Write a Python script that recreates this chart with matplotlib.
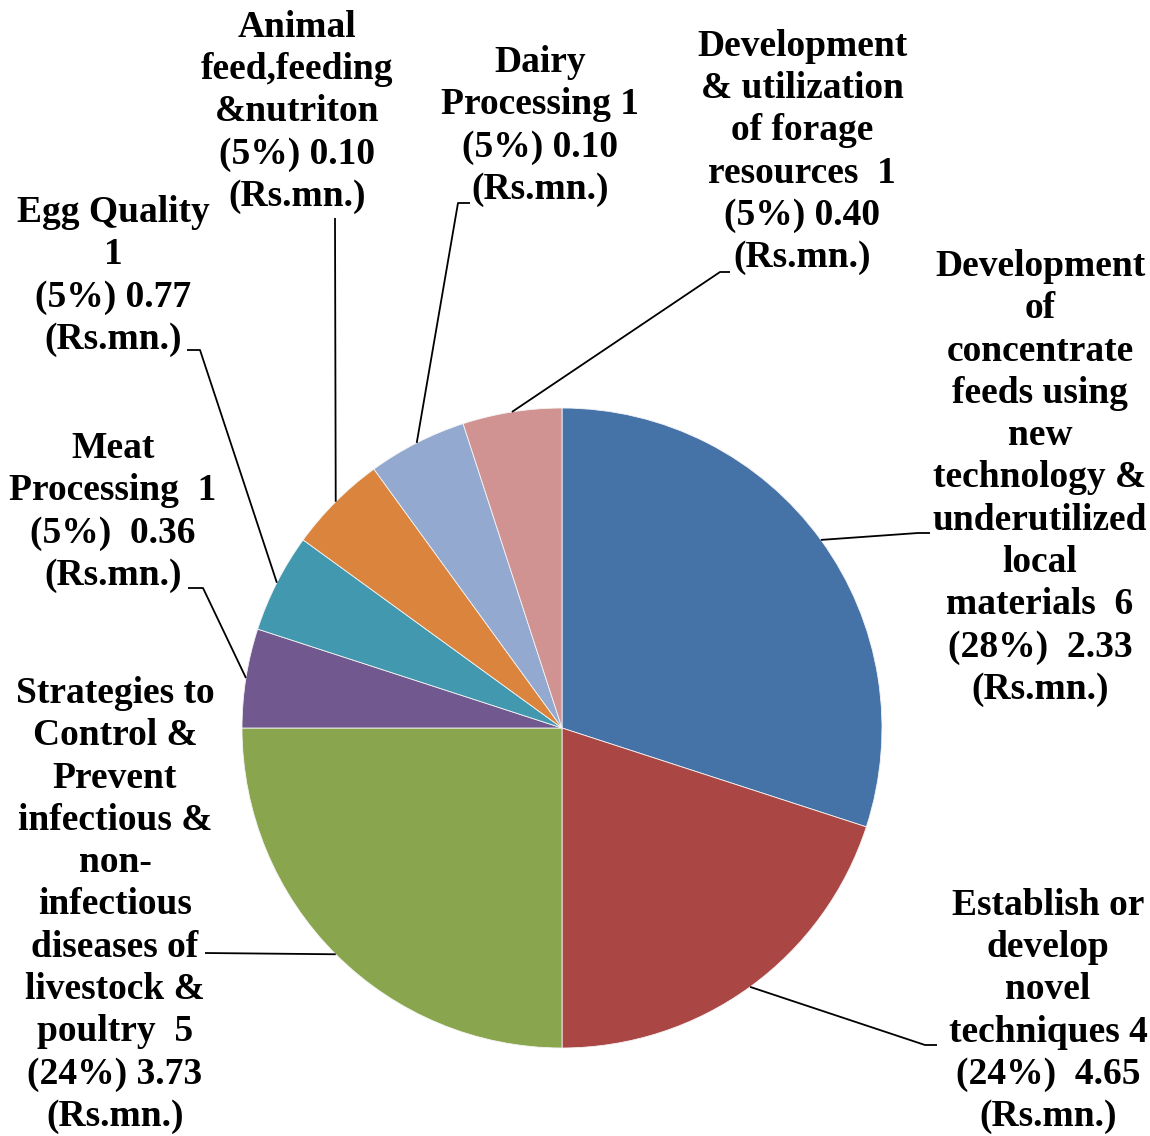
import numpy as np
import matplotlib
matplotlib.use("Agg")
import matplotlib.pyplot as plt

# ---- data ----
categories = [
    "Development\nof\nconcentrate\nfeeds using\nnew\ntechnology &\nunderutilized\nlocal\nmaterials  6\n(28%)  2.33\n(Rs.mn.)",
    "Establish or\ndevelop\nnovel\ntechniques 4\n(24%)  4.65\n(Rs.mn.)",
    "Strategies to\nControl &\nPrevent\ninfectious &\nnon-\ninfectious\ndiseases of\nlivestock &\npoultry  5\n(24%) 3.73\n(Rs.mn.)",
    "Meat\nProcessing  1\n(5%)  0.36\n(Rs.mn.)",
    "Egg Quality\n1\n(5%) 0.77\n(Rs.mn.)",
    "Animal\nfeed,feeding\n&nutriton\n(5%) 0.10\n(Rs.mn.)",
    "Dairy\nProcessing 1\n(5%) 0.10\n(Rs.mn.)",
    "Development\n& utilization\nof forage\nresources  1\n(5%) 0.40\n(Rs.mn.)",
]
project_counts = [6, 4, 5, 1, 1, 1, 1, 1]
colors = ["#4572A7", "#AA4643", "#89A54E", "#71588F",
          "#4198AF", "#DB843D", "#93A9CF", "#D19392"]

# ---- layout (image pixel coords, y downward) ----
W, H = 1150, 1136
cx, cy, R = 562, 728, 320
label_pos = [(1040, 478), (1048, 1011), (115, 905), (113, 512),
             (113, 276), (297, 112), (540, 126), (802, 152)]
leader_pts = [
    [(918, 533), (930, 533)],
    [(925, 1045), (937, 1045)],
    [(205, 953)],
    [(203, 588), (188, 588)],
    [(200, 350), (187, 350)],
    [(335, 218)],
    [(458, 203), (470, 203)],
    [(720, 272), (730, 272)],
]

def Y(y):
    return H - y

fig = plt.figure(figsize=(W / 100, H / 100), dpi=100)
ax = fig.add_axes([0, 0, 1, 1])
wedges, _ = ax.pie(project_counts, colors=colors, startangle=90,
                   counterclock=False, center=(cx, Y(cy)), radius=R,
                   wedgeprops=dict(edgecolor="#f4f4f4", linewidth=0.6))
ax.set_xlim(0, W)
ax.set_ylim(0, H)
ax.set_aspect("equal")
ax.axis("off")

font = dict(family="Liberation Serif", weight="bold", fontsize=27)
for w, lab, (tx, ty), pts in zip(wedges, categories, label_pos, leader_pts):
    ang = np.deg2rad((w.theta1 + w.theta2) / 2)
    ax0 = cx + R * np.cos(ang)
    ay0 = Y(cy) + R * np.sin(ang)
    xs = [ax0] + [p[0] for p in pts]
    ys = [ay0] + [Y(p[1]) for p in pts]
    ax.plot(xs, ys, color="black", lw=1.3, solid_capstyle="butt")
    ax.text(tx, Y(ty), lab, ha="center", va="center", multialignment="center",
            linespacing=1.27, color="black", **font)

fig.savefig("out.png", dpi=100)
